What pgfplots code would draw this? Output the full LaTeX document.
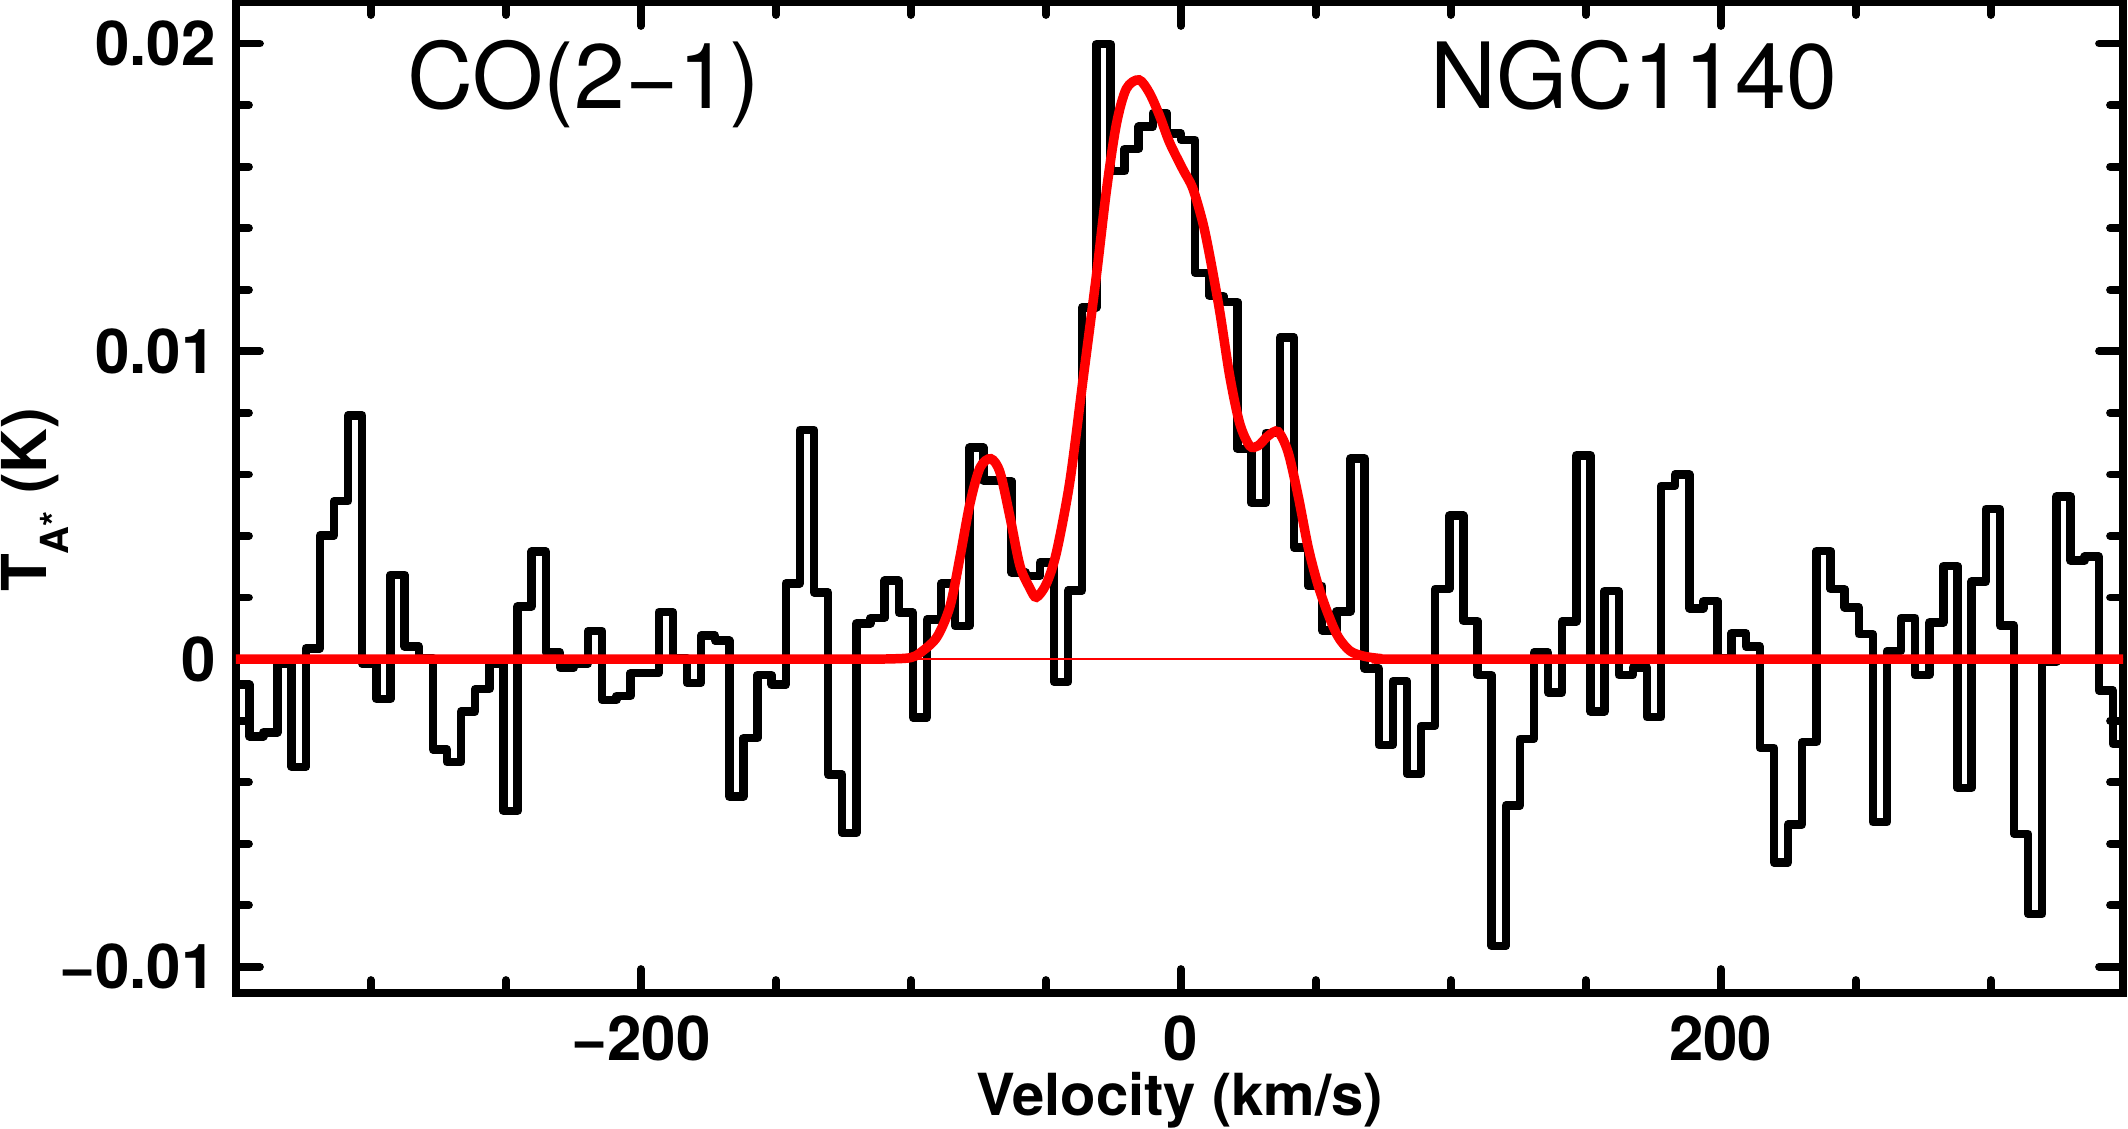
\documentclass[border=0pt]{standalone}
\usepackage{pgfplots}
\pgfplotsset{compat=1.18}
\usepackage{fontspec}
\setmainfont{TeX Gyre Heros}
\begin{document}
\begin{tikzpicture}
\path[use as bounding box] (-23.6mm,-13.5mm) rectangle (189.2mm,99.3mm);
\begin{axis}[
  at={(0,0)}, anchor=south west,
  scale only axis, width=188.7mm, height=99.1mm,
  xmin=-350, xmax=349, ymin=-0.01085, ymax=0.02135,
  axis line style={line width=2.3pt},
  tick align=inside, xtick pos=both, ytick pos=both,
  xtick={-200,0,200}, xticklabels={−200,0,200},
  minor xtick={-300,-250,-150,-100,-50,50,100,150,250,300},
  ytick={-0.01,0,0.01,0.02}, yticklabels={−0.01,0,0.01,0.02},
  minor ytick={-0.008,-0.006,-0.004,-0.002,0.002,0.004,0.006,0.008,0.012,0.014,0.016,0.018},
  scaled y ticks=false, scaled x ticks=false,
  major tick length=2.4mm, minor tick length=1.3mm,
  every tick/.style={line width=2.2pt, black, line cap=round},
  ticklabel style={font=\bfseries\fontsize{17.6pt}{20pt}\selectfont},
  xticklabel style={yshift=-1mm},
  yticklabel style={xshift=-0.8mm},
  xlabel={\bfseries Velocity (km/s)},
  xlabel style={font=\fontsize{16.5pt}{19pt}\selectfont, at={(axis description cs:0.5,0)}, anchor=base, yshift=-12.2mm},
  ylabel={\bfseries T\raisebox{-0.35em}{\fontsize{11pt}{11pt}\selectfont A*} (K)},
  ylabel style={font=\fontsize{17.6pt}{20pt}\selectfont, at={(axis description cs:-0.1002,0.4975)}, anchor=base, rotate=0},
  clip=true,
]
\addplot[const plot, black, line width=2.4pt, line join=round, line cap=round] table {
x y
-350.00 -0.00083
-345.07 -0.00251
-339.84 -0.00238
-334.61 -0.00015
-329.38 -0.00350
-324.15 0.00035
-318.92 0.00401
-313.69 0.00513
-308.46 0.00792
-303.23 -0.00015
-298.00 -0.00130
-292.77 0.00274
-287.54 0.00041
-282.31 0.00004
-277.08 -0.00294
-271.86 -0.00335
-266.63 -0.00170
-261.40 -0.00098
-256.17 -0.00015
-250.94 -0.00493
-245.71 0.00171
-240.48 0.00349
-235.25 0.00022
-230.02 -0.00027
-224.79 -0.00015
-219.56 0.00091
-214.33 -0.00133
-209.10 -0.00120
-203.87 -0.00046
-198.64 -0.00046
-193.41 0.00153
-188.18 0.00004
-182.95 -0.00077
-177.72 0.00076
-172.49 0.00060
-167.26 -0.00447
-162.03 -0.00257
-156.80 -0.00052
-151.57 -0.00083
-146.35 0.00246
-141.12 0.00745
-135.89 0.00217
-130.66 -0.00375
-125.43 -0.00565
-120.20 0.00116
-114.97 0.00134
-109.74 0.00255
-104.51 0.00151
-99.28 -0.00190
-94.05 0.00129
-88.82 0.00245
-83.59 0.00107
-78.36 0.00687
-73.13 0.00580
-67.90 0.00578
-62.67 0.00281
-57.44 0.00270
-52.21 0.00314
-46.98 -0.00074
-41.75 0.00223
-36.52 0.01143
-31.29 0.01998
-26.06 0.01585
-20.84 0.01658
-15.61 0.01730
-10.38 0.01774
-5.15 0.01708
0.08 0.01687
5.31 0.01255
10.54 0.01180
15.77 0.01160
21.00 0.00683
26.23 0.00507
31.46 0.00735
36.69 0.01045
41.92 0.00362
47.15 0.00238
52.38 0.00093
57.61 0.00155
62.84 0.00652
68.07 -0.00031
73.30 -0.00279
78.53 -0.00072
83.76 -0.00373
88.98 -0.00217
94.21 0.00228
99.44 0.00466
104.67 0.00124
109.90 -0.00052
115.13 -0.00932
120.36 -0.00476
125.59 -0.00259
130.82 0.00022
136.05 -0.00108
141.28 0.00122
146.51 0.00662
151.74 -0.00170
156.97 0.00221
162.20 -0.00052
167.43 -0.00027
172.66 -0.00189
177.89 0.00563
183.12 0.00600
188.35 0.00165
193.58 0.00188
198.81 0.00004
204.04 0.00084
209.27 0.00041
214.49 -0.00288
219.72 -0.00661
224.95 -0.00537
230.18 -0.00270
235.41 0.00351
240.64 0.00227
245.87 0.00168
251.10 0.00081
256.33 -0.00530
261.56 0.00026
266.79 0.00134
272.02 -0.00052
277.25 0.00119
282.48 0.00302
287.71 -0.00419
292.94 0.00252
298.17 0.00488
303.40 0.00109
308.63 -0.00568
313.86 -0.00828
319.09 -0.00009
324.32 0.00528
329.55 0.00320
334.78 0.00333
340.00 -0.00102
345.23 -0.00276
350.46 -0.00276
};
\addplot[red, line width=0.5pt] coordinates {(-350,0) (350,0)};
\addplot[red, line width=2.7pt, smooth, line cap=round] table {
x y
-350 0
-200 0
-120 0
-106 0.00001
-100 0.00005
-96.6 0.00020
-90.4 0.00071
-85.5 0.00172
-81.8 0.00332
-78.1 0.00506
-74.4 0.00622
-70.4 0.00651
-67.0 0.00607
-63.3 0.00462
-59.6 0.00303
-55.9 0.00230
-53.5 0.00201
-49.8 0.00245
-46.1 0.00346
-41.1 0.00578
-36.2 0.00911
-31.3 0.01245
-27.6 0.01520
-23.9 0.01737
-20.2 0.01853
-15.5 0.01882
-11.6 0.01839
-7.9 0.01766
-4.2 0.01679
0.7 0.01592
4.4 0.01530
8.1 0.01419
10.7 0.01310
14.4 0.01130
18.1 0.00920
21.8 0.00766
25.5 0.00693
28.6 0.00693
32.3 0.00725
36.0 0.00739
39.7 0.00673
43.5 0.00528
47.2 0.00362
50.9 0.00238
54.6 0.00145
58.3 0.00072
62.6 0.00027
67.5 0.00010
73.7 0.00002
80 0
200 0
350 0
};
\node[anchor=base west, font=\fontsize{26pt}{30pt}\selectfont] at (axis cs:-291,0.0179) {CO(2−1)};
\node[anchor=base west, font=\fontsize{26pt}{30pt}\selectfont] at (axis cs:88,0.0179) {NGC1140};
\end{axis}
\end{tikzpicture}
\end{document}
